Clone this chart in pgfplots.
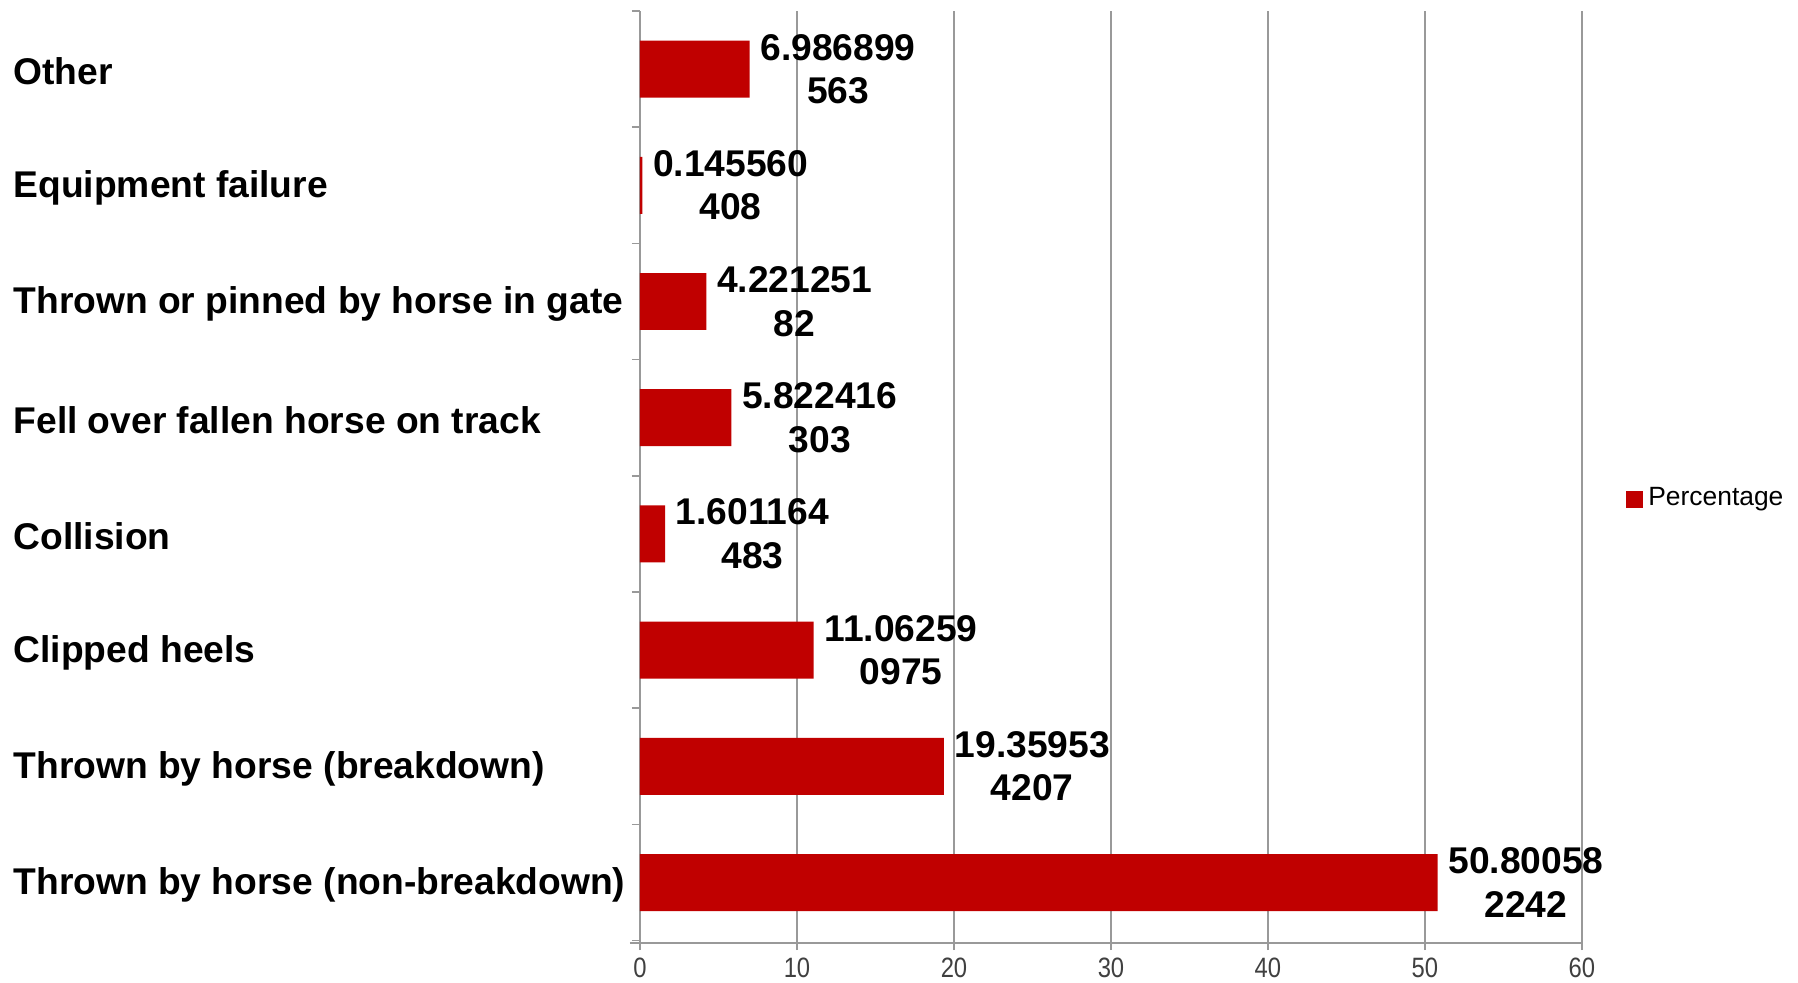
\documentclass[border=0pt]{standalone}
\usepackage{pgfplots}
\pgfplotsset{compat=1.18}
\usepackage{fontspec}
\setmainfont{Liberation Sans}
\newfontfamily\narrowfont[FakeStretch=0.85]{Liberation Sans}
\definecolor{barred}{HTML}{C00000}
\definecolor{gridgray}{HTML}{999999}
\begin{document}
\begin{tikzpicture}
\useasboundingbox (0,0) rectangle (449.5pt,245.75pt);
\begin{axis}[
  at={(160pt,10pt)}, anchor=south west,
  scale only axis, width=235.5pt, height=233pt,
  xbar, bar width=0.49,
  xmin=0, xmax=60, ymin=-0.52, ymax=7.5,
  xtick={0,10,...,60},
  ytick={0,...,7},
  yticklabels={Thrown by horse (non-breakdown),Thrown by horse (breakdown),Clipped heels,Collision,Fell over fallen horse on track,Thrown or pinned by horse in gate,Equipment failure,Other},
  minor ytick={-0.5,0.5,...,7.5},
  axis lines*=left,
  axis line style={draw=gridgray, line width=0.5pt},
  x axis line style={shorten <=-2.5pt},
  xmajorgrids, grid style={draw=gridgray, line width=0.5pt},
  every major y tick/.style={draw=none},
  every minor y tick/.style={draw=gridgray, line width=0.4pt},
  minor tick length=2pt,
  major tick length=1.8pt,
  every major x tick/.style={draw=gridgray, line width=0.5pt},
  tick align=outside,
  yticklabel style={anchor=west, xshift=-155pt, yshift=-0.6pt, inner sep=0pt, font=\bfseries\fontsize{9.3}{11}\selectfont},
  xticklabel style={font=\narrowfont\fontsize{7}{8}\selectfont, text=black!75, yshift=1.6pt},
  /pgf/number format/assume math mode=true,
  clip=false,
  visualization depends on={value \thisrow{la}\as\linea},
  visualization depends on={value \thisrow{lb}\as\lineb},
  nodes near coords={\linea\\\lineb},
  every node near coord/.append style={font=\bfseries\fontsize{9.3}{10.9}\selectfont, align=center, anchor=west, inner sep=2.5pt, text=black},
  legend style={at={(1,0.476)}, anchor=west, xshift=10.8pt, draw=none, fill=none, inner sep=0pt, font=\fontsize{6.6}{8}\selectfont, nodes={inner sep=0.6pt}},
  legend image code/.code={\fill[barred] (0pt,-2.15pt) rectangle (4.3pt,2.15pt);},
  legend cell align=left,
]
\addplot[fill=barred, draw=none] table[x=val, y=pos] {
pos val la lb
7 6.986899563 6.986899 563
6 0.145560408 0.145560 408
5 4.22125182 4.221251 82
4 5.822416303 5.822416 303
3 1.601164483 1.601164 483
2 11.062590975 11.06259 0975
1 19.359534207 19.35953 4207
0 50.800582242 50.80058 2242
};
\addlegendentry{\hspace{0.7pt}Percentage}
\end{axis}
\end{tikzpicture}
\end{document}
